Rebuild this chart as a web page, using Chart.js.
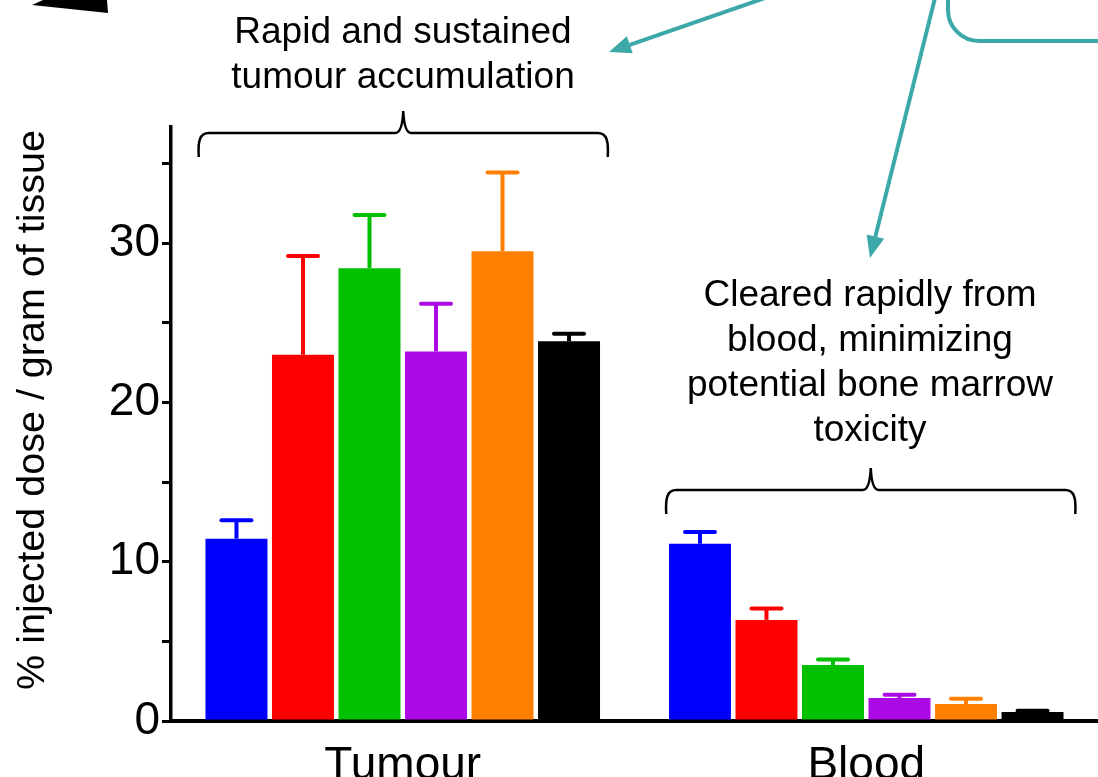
<!DOCTYPE html>
<html>
<head>
<meta charset="utf-8">
<script src="https://cdn.jsdelivr.net/npm/chart.js@4"></script>
<style>
  html, body { margin: 0; padding: 0; background: #fff; overflow: hidden; }
  #chart { display: block; }
</style>
</head>
<body>
<canvas id="chart" width="1098" height="777"></canvas>
<script>
// categories and series
const categories = ['Tumour', 'Blood'];
const seriesNames = ['Group 1', 'Group 2', 'Group 3', 'Group 4', 'Group 5', 'Group 6'];
const seriesColors = ['#0000ff', '#ff0000', '#00c000', '#ac0ae4', '#ff8000', '#000000'];

// mean values per series: [Tumour, Blood]
const meanValues = [
    [11.45, 11.13],
    [23.0, 6.35],
    [28.43, 3.52],
    [23.2, 1.45],
    [29.5, 1.07],
    [23.84, 0.57]
];

// upper error (SD) per series: [Tumour, Blood]
const errorValues = [
    [1.15, 0.74],
    [6.2, 0.71],
    [3.35, 0.34],
    [3.0, 0.2],
    [4.95, 0.33],
    [0.48, 0.08]
];

const yTicks = [0, 5, 10, 15, 20, 25, 30, 35];
const yLabelTicks = [0, 10, 20, 30];

const yTitle = '% injected dose / gram of tissue';
const tumourNote = ['Rapid and sustained', 'tumour accumulation'];
const bloodNote = ['Cleared rapidly from', 'blood, minimizing', 'potential bone marrow', 'toxicity'];

const FONT = '"Liberation Sans", Arial, sans-serif';
const TEAL = '#3ca8a8';

const errorBars = {
    id: 'errorBars',
    afterDatasetsDraw(chart) {
        const ctx = chart.ctx;
        const y = chart.scales.y;
        chart.data.datasets.forEach((ds, i) => {
            const meta = chart.getDatasetMeta(i);
            meta.data.forEach((bar, j) => {
                const top = y.getPixelForValue(ds.data[j] + errorValues[i][j]);
                ctx.save();
                ctx.strokeStyle = ds.backgroundColor;
                ctx.lineWidth = 4;
                ctx.beginPath();
                ctx.moveTo(bar.x, bar.y);
                ctx.lineTo(bar.x, top);
                ctx.stroke();
                ctx.lineCap = 'round';
                ctx.beginPath();
                ctx.moveTo(bar.x - 15, top);
                ctx.lineTo(bar.x + 15, top);
                ctx.stroke();
                ctx.restore();
            });
        });
    }
};

function drawBrace(ctx, x0, x1, yb) {
    const xc = (x0 + x1) / 2;
    ctx.beginPath();
    ctx.moveTo(x0, yb + 24);
    ctx.bezierCurveTo(x0 - 1, yb + 8, x0 + 1, yb, x0 + 10, yb);
    ctx.lineTo(xc - 8, yb);
    ctx.quadraticCurveTo(xc - 1, yb, xc, yb - 22);
    ctx.quadraticCurveTo(xc + 1, yb, xc + 8, yb);
    ctx.lineTo(x1 - 10, yb);
    ctx.bezierCurveTo(x1 - 1, yb, x1 + 1, yb + 8, x1, yb + 24);
    ctx.stroke();
}

function drawArrow(ctx, x0, y0, x1, y1) {
    const ang = Math.atan2(y1 - y0, x1 - x0);
    const len = 22, half = 9;
    const bx = x1 - len * Math.cos(ang), by = y1 - len * Math.sin(ang);
    ctx.beginPath();
    ctx.moveTo(x0, y0);
    ctx.lineTo(bx, by);
    ctx.stroke();
    ctx.beginPath();
    ctx.moveTo(x1, y1);
    ctx.lineTo(bx + half * Math.sin(ang), by - half * Math.cos(ang));
    ctx.lineTo(bx - half * Math.sin(ang), by + half * Math.cos(ang));
    ctx.closePath();
    ctx.fill();
}

const annotations = {
    id: 'annotations',
    afterDraw(chart) {
        const ctx = chart.ctx;
        const x = chart.scales.x;
        ctx.save();

        // y axis title
        ctx.save();
        ctx.translate(33, 410);
        ctx.rotate(-Math.PI / 2);
        ctx.fillStyle = '#000';
        ctx.font = '39.5px ' + FONT;
        ctx.textAlign = 'center';
        ctx.textBaseline = 'middle';
        ctx.fillText(yTitle, 0, 0);
        ctx.restore();

        // braces
        ctx.strokeStyle = '#000';
        ctx.lineWidth = 2.5;
        const t = x.getPixelForValue(0), b = x.getPixelForValue(1);
        drawBrace(ctx, t - 204, t + 205, 133);
        drawBrace(ctx, b - 200, b + 209, 490);

        // notes
        ctx.fillStyle = '#000';
        ctx.font = '37px ' + FONT;
        ctx.textAlign = 'center';
        ctx.textBaseline = 'alphabetic';
        tumourNote.forEach((s, i) => ctx.fillText(s, 403, 43 + i * 45));
        bloodNote.forEach((s, i) => ctx.fillText(s, 870, 306 + i * 45));

        // teal arrows and box corner
        ctx.strokeStyle = TEAL;
        ctx.fillStyle = TEAL;
        ctx.lineWidth = 4;
        drawArrow(ctx, 765, -2, 609, 52);
        drawArrow(ctx, 935, -2, 870, 258);
        ctx.beginPath();
        ctx.moveTo(948, -2);
        ctx.lineTo(948, 10);
        ctx.arcTo(948, 41, 980, 41, 31);
        ctx.lineTo(1100, 41);
        ctx.stroke();

        // black shape top left
        ctx.fillStyle = '#000';
        ctx.beginPath();
        ctx.moveTo(43, 0);
        ctx.lineTo(107, 0);
        ctx.lineTo(108, 13);
        ctx.lineTo(32, 5);
        ctx.closePath();
        ctx.fill();

        ctx.restore();
    }
};

new Chart(document.getElementById('chart'), {
    type: 'bar',
    data: {
        labels: categories,
        datasets: seriesNames.map((name, i) => ({
            label: name,
            data: meanValues[i],
            backgroundColor: seriesColors[i],
            borderWidth: 0,
            categoryPercentage: 0.861,
            barPercentage: 0.932
        }))
    },
    options: {
        responsive: false,
        devicePixelRatio: 1,
        animation: false,
        layout: { padding: { left: 0, top: 127, right: 0, bottom: 0 } },
        plugins: {
            legend: { display: false },
            tooltip: { enabled: false }
        },
        scales: {
            x: {
                offset: true,
                grid: { display: false },
                border: { display: true, color: '#000', width: 4 },
                ticks: {
                    color: '#000',
                    padding: 10,
                    font: { family: FONT, size: 46 }
                },
                afterFit(scale) { scale.height = 56; }
            },
            y: {
                min: 0,
                max: 37.3,
                afterBuildTicks(scale) {
                    scale.ticks = yTicks.map(v => ({ value: v }));
                },
                grid: {
                    drawOnChartArea: false,
                    drawTicks: true,
                    tickLength: 9,
                    lineWidth: 3,
                    color: '#000'
                },
                border: { display: true, color: '#000', width: 3.5 },
                ticks: {
                    color: '#000',
                    padding: 2,
                    font: { family: FONT, size: 46 },
                    callback: v => (yLabelTicks.includes(v) ? String(v) : '')
                },
                afterFit(scale) { scale.width = 171; }
            }
        }
    },
    plugins: [errorBars, annotations]
});
</script>
</body>
</html>
